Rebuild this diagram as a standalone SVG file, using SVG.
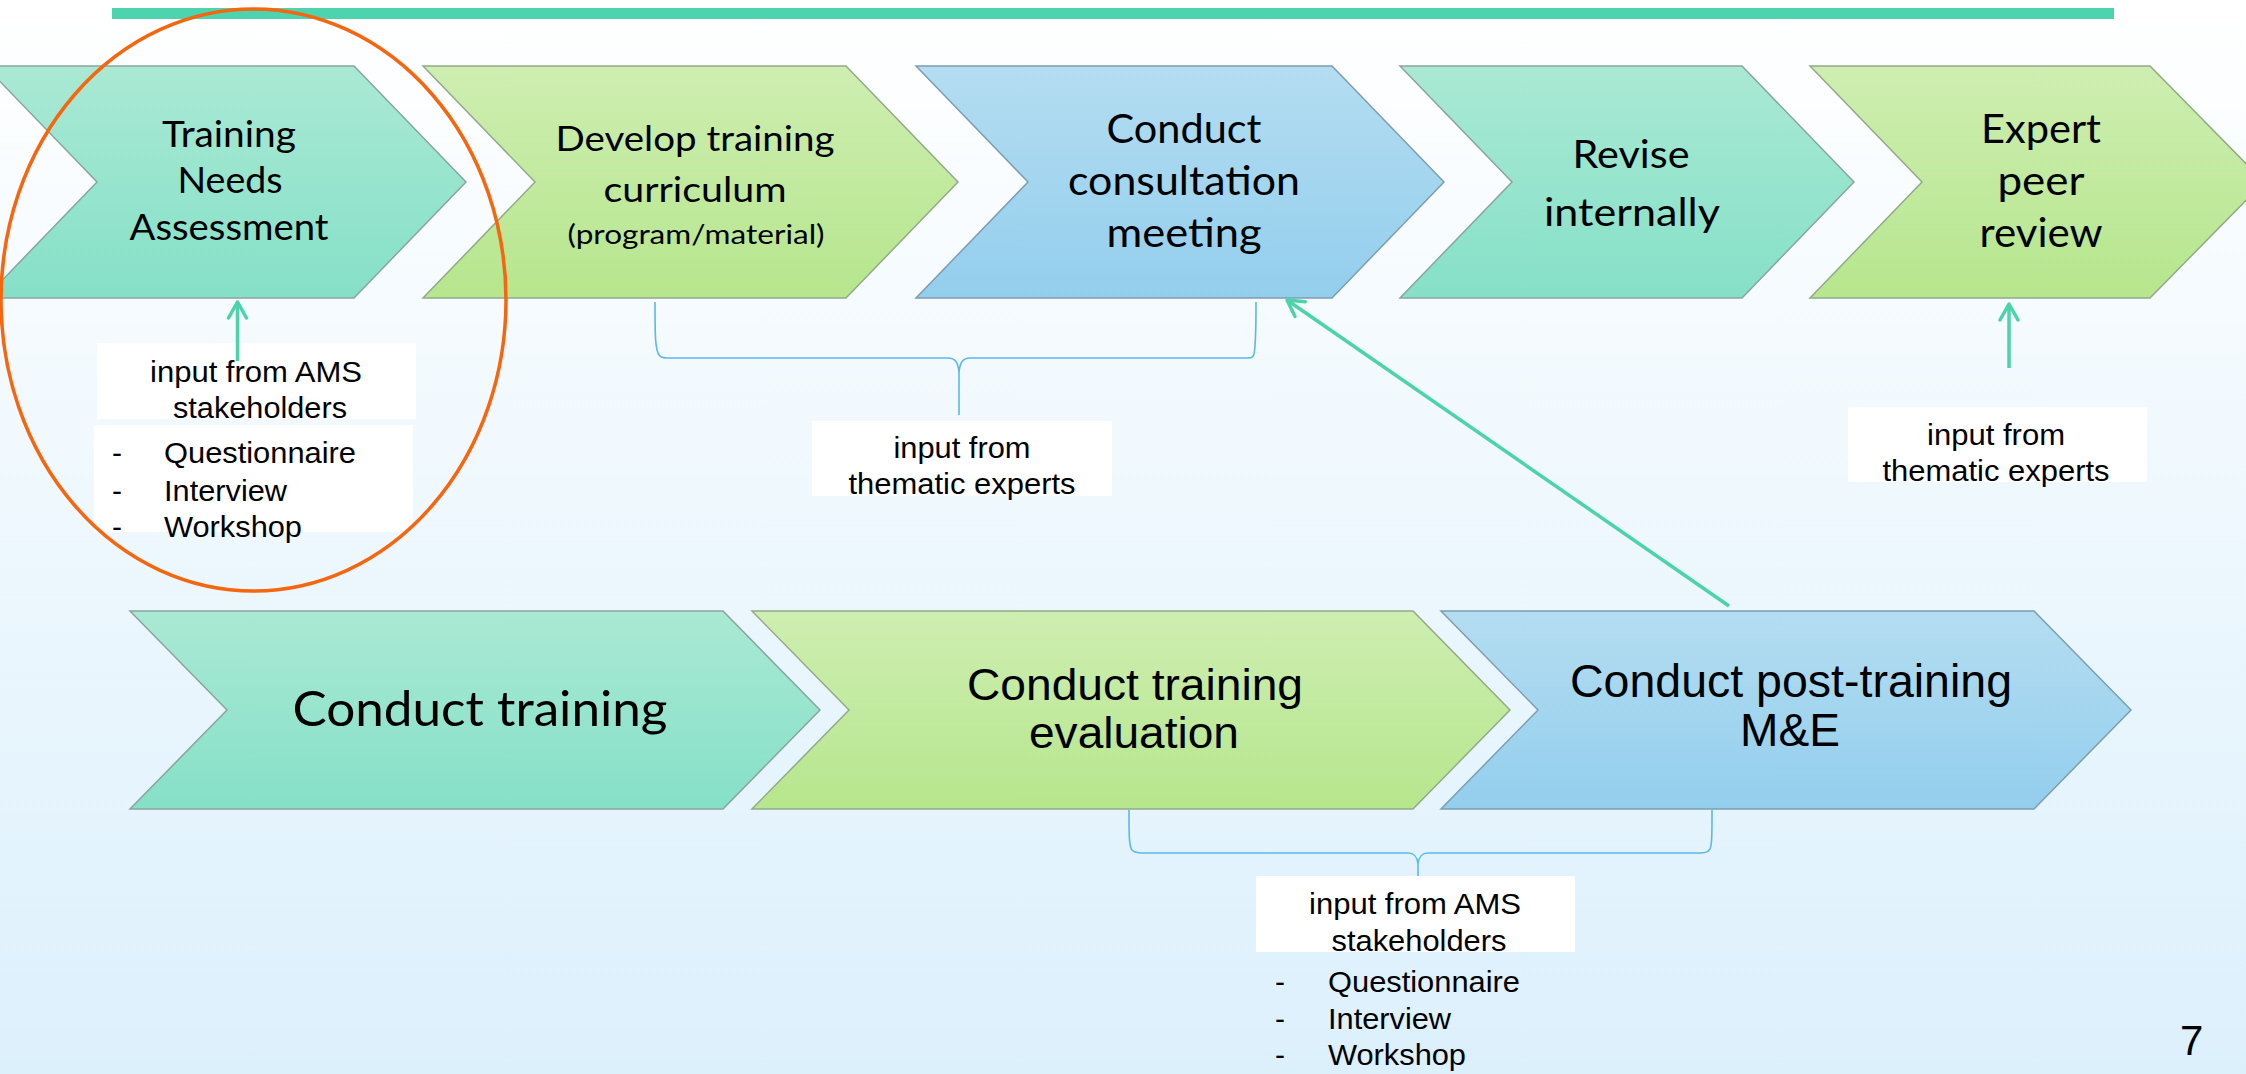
<svg xmlns="http://www.w3.org/2000/svg" width="2246" height="1074" viewBox="0 0 2246 1074">
<defs>
<linearGradient id="bg" x1="0" y1="0" x2="0" y2="1">
<stop offset="0" stop-color="#ffffff"/>
<stop offset="1" stop-color="#dcf0fc"/>
</linearGradient>
<linearGradient id="gTeal" x1="0" y1="0" x2="0" y2="1">
<stop offset="0" stop-color="#aae9d4"/>
<stop offset="1" stop-color="#85e0c7"/>
</linearGradient>
<linearGradient id="gGreen" x1="0" y1="0" x2="0" y2="1">
<stop offset="0" stop-color="#ceeeb1"/>
<stop offset="1" stop-color="#b6e68d"/>
</linearGradient>
<linearGradient id="gBlue" x1="0" y1="0" x2="0" y2="1">
<stop offset="0" stop-color="#b4ddf1"/>
<stop offset="1" stop-color="#93ceed"/>
</linearGradient>
<marker id="arr" viewBox="-20 -12 24 24" refX="0" refY="0" markerWidth="24" markerHeight="24" markerUnits="userSpaceOnUse" orient="auto">
<path d="M-16,-9 L0,0 L-16,9" fill="none" stroke="#4dd3ab" stroke-width="3.5" stroke-linecap="round" stroke-linejoin="round"/>
</marker>
<style>
.teal{fill:url(#gTeal);stroke:#8aa59c;stroke-width:1.5}
.green{fill:url(#gGreen);stroke:#94a98a;stroke-width:1.5}
.blue{fill:url(#gBlue);stroke:#7f9db0;stroke-width:1.5}
.cal{font-family:Lato,"Liberation Sans",sans-serif;fill:#000;text-anchor:middle}
.ar{font-family:"Liberation Sans",Arial,sans-serif;fill:#000}
.arc{font-family:"Liberation Sans",Arial,sans-serif;fill:#000;text-anchor:middle}
.box{fill:#ffffff}
.conn{fill:none;stroke:#4dd3ab;stroke-width:3.5}
.brace{fill:none;stroke:#5ab9e7;stroke-width:1.6}
</style>
</defs>
<rect x="0" y="0" width="2246" height="1074" fill="url(#bg)"/>
<rect id="topbar" x="112" y="8" width="2002" height="11" fill="#4dd3ae"/>

<g id="node-tna">
<polygon class="teal" points="-15,66 354,66 466,182 354,298 -15,298 97,182"/>
<text class="cal" font-size="36"><tspan x="229" y="147" textLength="134" lengthAdjust="spacingAndGlyphs">Training</tspan><tspan x="230" y="193" textLength="105" lengthAdjust="spacingAndGlyphs">Needs</tspan><tspan x="229" y="240" textLength="199" lengthAdjust="spacingAndGlyphs">Assessment</tspan></text>
</g>
<g id="node-develop">
<polygon class="green" points="423,66 846,66 958,182 846,298 423,298 535,182"/>
<text class="cal" font-size="35"><tspan x="695" y="151" textLength="279" lengthAdjust="spacingAndGlyphs">Develop training</tspan><tspan x="695" y="202" textLength="183" lengthAdjust="spacingAndGlyphs">curriculum</tspan></text>
<text class="cal" font-size="27" x="696" y="244" textLength="257" lengthAdjust="spacingAndGlyphs">(program/material)</text>
</g>
<g id="node-consult">
<polygon class="blue" points="916,66 1332,66 1444,182 1332,298 916,298 1028,182"/>
<text class="cal" font-size="40"><tspan x="1184" y="143" textLength="155" lengthAdjust="spacingAndGlyphs">Conduct</tspan><tspan x="1184" y="195" textLength="232" lengthAdjust="spacingAndGlyphs">consultation</tspan><tspan x="1184" y="247" textLength="155" lengthAdjust="spacingAndGlyphs">meeting</tspan></text>
</g>
<g id="node-revise">
<polygon class="teal" points="1400,66 1742,66 1854,182 1742,298 1400,298 1512,182"/>
<text class="cal" font-size="39"><tspan x="1631" y="168" textLength="117" lengthAdjust="spacingAndGlyphs">Revise</tspan><tspan x="1632" y="226" textLength="176" lengthAdjust="spacingAndGlyphs">internally</tspan></text>
</g>
<g id="node-peer">
<polygon class="green" points="1810,66 2150,66 2264,182 2150,298 1810,298 1922,182"/>
<text class="cal" font-size="40"><tspan x="2041" y="143" textLength="120" lengthAdjust="spacingAndGlyphs">Expert</tspan><tspan x="2041" y="195" textLength="87" lengthAdjust="spacingAndGlyphs">peer</tspan><tspan x="2041" y="247" textLength="123" lengthAdjust="spacingAndGlyphs">review</tspan></text>
</g>

<g id="node-training">
<polygon class="teal" points="130,611 723,611 820,710 723,809 130,809 227,710"/>
<text class="cal" font-size="48" x="480" y="726" textLength="375" lengthAdjust="spacingAndGlyphs">Conduct training</text>
</g>
<g id="node-evaluation">
<polygon class="green" points="752,611 1413,611 1510,710 1413,809 752,809 849,710"/>
<text class="arc" font-size="45"><tspan x="1135" y="700" textLength="336" lengthAdjust="spacingAndGlyphs">Conduct training</tspan><tspan x="1134" y="748" textLength="210" lengthAdjust="spacingAndGlyphs">evaluation</tspan></text>
</g>
<g id="node-postme">
<polygon class="blue" points="1441,611 2034,611 2131,710 2034,809 1441,809 1538,710"/>
<text class="arc" font-size="46"><tspan x="1791" y="697" textLength="442" lengthAdjust="spacingAndGlyphs">Conduct post-training</tspan><tspan x="1790" y="746" textLength="100" lengthAdjust="spacingAndGlyphs">M&amp;E</tspan></text>
</g>

<g id="note-ams-top">
<rect class="box" x="97" y="343" width="319" height="76"/>
<rect class="box" x="94" y="425" width="319" height="107"/>
<text class="arc" font-size="30"><tspan x="256" y="381.5" textLength="212" lengthAdjust="spacingAndGlyphs">input from AMS</tspan><tspan x="260" y="418" textLength="174" lengthAdjust="spacingAndGlyphs">stakeholders</tspan></text>
<text class="ar" font-size="30"><tspan x="112" y="463">-</tspan><tspan x="112" y="500.5">-</tspan><tspan x="112" y="537">-</tspan></text>
<text class="ar" font-size="30"><tspan x="164" y="463" textLength="192" lengthAdjust="spacingAndGlyphs">Questionnaire</tspan><tspan x="164" y="500.5" textLength="123" lengthAdjust="spacingAndGlyphs">Interview</tspan><tspan x="164" y="537" textLength="138" lengthAdjust="spacingAndGlyphs">Workshop</tspan></text>
</g>
<g id="note-experts-mid">
<rect class="box" x="812" y="421" width="300" height="75"/>
<text class="arc" font-size="30"><tspan x="962" y="458" textLength="137" lengthAdjust="spacingAndGlyphs">input from</tspan><tspan x="962" y="494" textLength="227" lengthAdjust="spacingAndGlyphs">thematic experts</tspan></text>
</g>
<g id="note-experts-right">
<rect class="box" x="1848" y="407" width="299" height="75"/>
<text class="arc" font-size="30"><tspan x="1996" y="445" textLength="138" lengthAdjust="spacingAndGlyphs">input from</tspan><tspan x="1996" y="481" textLength="227" lengthAdjust="spacingAndGlyphs">thematic experts</tspan></text>
</g>
<g id="note-ams-bottom">
<rect class="box" x="1256" y="876" width="319" height="76"/>
<text class="arc" font-size="30"><tspan x="1415" y="914" textLength="212" lengthAdjust="spacingAndGlyphs">input from AMS</tspan><tspan x="1419" y="951" textLength="175" lengthAdjust="spacingAndGlyphs">stakeholders</tspan></text>
<text class="ar" font-size="30"><tspan x="1275" y="992">-</tspan><tspan x="1275" y="1029">-</tspan><tspan x="1275" y="1065">-</tspan></text>
<text class="ar" font-size="30"><tspan x="1328" y="992" textLength="192" lengthAdjust="spacingAndGlyphs">Questionnaire</tspan><tspan x="1328" y="1029" textLength="123" lengthAdjust="spacingAndGlyphs">Interview</tspan><tspan x="1328" y="1065" textLength="138" lengthAdjust="spacingAndGlyphs">Workshop</tspan></text>
</g>

<g id="connectors">
<line class="conn" x1="237.5" y1="361" x2="237.5" y2="302" marker-end="url(#arr)"/>
<line class="conn" x1="2009" y1="368" x2="2009" y2="304" marker-end="url(#arr)"/>
<line class="conn" x1="1729" y1="606" x2="1287" y2="300" marker-end="url(#arr)"/>
<path class="brace" d="M655,302 C655,335 655,352 660,356 C662,358 664,358 670,358 L948,358 C955,358 958,362 959,372 L959,415 M959,372 C960,362 963,358 970,358 L1245,358 C1251,358 1253,358 1254,354 C1256,345 1256,330 1256,302"/>
<path class="brace" d="M1129,810 C1129,835 1129,846 1132,850 C1134,852 1136,853 1142,853 L1408,853 C1414,853 1417,856 1418,864 L1418,876 M1418,864 C1419,856 1422,853 1428,853 L1700,853 C1706,853 1708,852 1710,849 C1712,844 1712,835 1712,810"/>
</g>

<ellipse id="highlight" cx="253.5" cy="300" rx="252.5" ry="291" fill="none" stroke="#f5660f" stroke-width="3.5"/>
<text id="page-number" class="ar" font-size="42" x="2180" y="1055">7</text>
</svg>
